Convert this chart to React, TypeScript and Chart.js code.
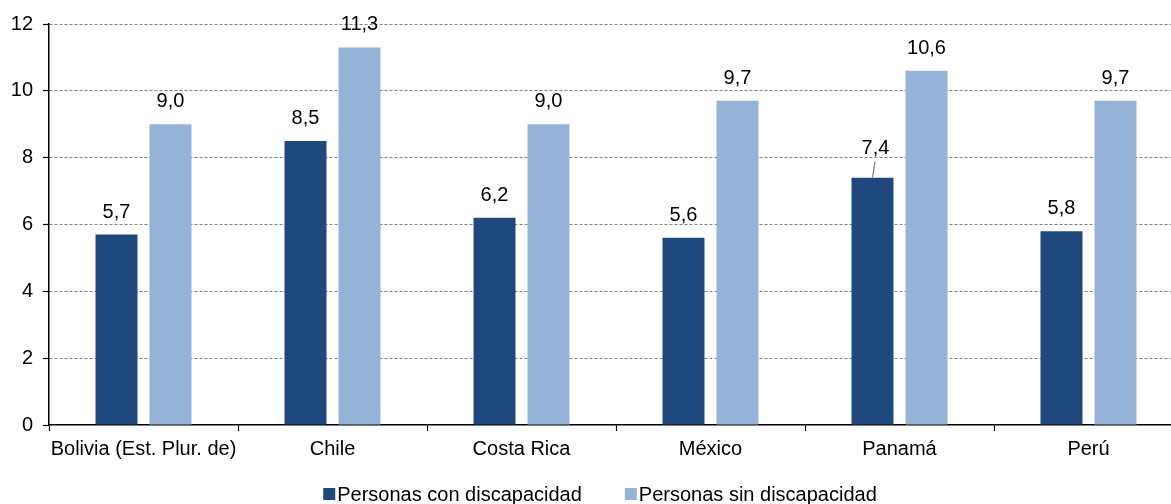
import React, { useEffect, useRef } from "react";
import { Chart, registerables } from "chart.js";

Chart.register(...registerables);

const categories = ["Bolivia (Est. Plur. de)", "Chile", "Costa Rica", "México", "Panamá", "Perú"];
const conDiscapacidad = [5.7, 8.5, 6.2, 5.6, 7.4, 5.8];
const sinDiscapacidad = [9.0, 11.3, 9.0, 9.7, 10.6, 9.7];
const seriesLabels = ["Personas con discapacidad", "Personas sin discapacidad"];
const seriesColors = ["#1F497D", "#95B3D7"];
const yTicks = [0, 2, 4, 6, 8, 10, 12];

const FONT = "'Liberation Sans', Arial, sans-serif";
const FS = 20;

const labelPlugin = {
  id: "valueLabels",
  afterDatasetsDraw(chart: any) {
    const ctx = chart.ctx;
    ctx.save();
    ctx.font = `${FS}px ${FONT}`;
    ctx.fillStyle = "#000";
    ctx.textAlign = "center";
    ctx.textBaseline = "alphabetic";
    chart.data.datasets.forEach((ds: any, di: number) => {
      const meta = chart.getDatasetMeta(di);
      meta.data.forEach((bar: any, i: number) => {
        const v = ds.data[i] as number;
        const txt = v.toFixed(1).replace(".", ",");
        const leader = di === 0 && categories[i] === "Panamá";
        if (leader) {
          ctx.fillText(txt, bar.x + 3, bar.y - 24);
          ctx.strokeStyle = "#808080";
          ctx.lineWidth = 1.2;
          ctx.beginPath();
          ctx.moveTo(bar.x + 2.5, bar.y - 16);
          ctx.lineTo(bar.x, bar.y);
          ctx.stroke();
        } else {
          ctx.fillText(txt, bar.x, bar.y - 17);
        }
      });
    });
    ctx.restore();
  },
};

const legendPlugin = {
  id: "customLegend",
  afterDraw(chart: any) {
    const ctx = chart.ctx;
    ctx.save();
    ctx.font = `${FS}px ${FONT}`;
    ctx.textBaseline = "alphabetic";
    ctx.textAlign = "left";
    const box = 12;
    const gapText = 2;
    const gapItem = 43;
    const widths = chart.data.datasets.map((ds: any) => box + gapText + ctx.measureText(ds.label).width);
    const total = widths.reduce((a: number, b: number) => a + b, 0) + gapItem * (widths.length - 1);
    let x = chart.width / 2 - total / 2;
    const baseline = 501;
    chart.data.datasets.forEach((ds: any, i: number) => {
      ctx.fillStyle = ds.backgroundColor;
      ctx.fillRect(x, 488, box, box);
      ctx.fillStyle = "#000";
      ctx.fillText(ds.label, x + box + gapText, baseline);
      x += widths[i] + gapItem;
    });
    ctx.restore();
  },
};

export default function App() {
  const ref = useRef<HTMLCanvasElement | null>(null);
  useEffect(() => {
    document.body.style.margin = "0";
    if (!ref.current) return;
    const chart = new Chart(ref.current, {
      type: "bar",
      data: {
        labels: categories,
        datasets: [
          {
            label: seriesLabels[0],
            data: conDiscapacidad,
            backgroundColor: seriesColors[0],
            categoryPercentage: 0.5714,
            barPercentage: 0.7778,
          },
          {
            label: seriesLabels[1],
            data: sinDiscapacidad,
            backgroundColor: seriesColors[1],
            categoryPercentage: 0.5714,
            barPercentage: 0.7778,
          },
        ],
      },
      options: {
        responsive: false,
        animation: false,
        layout: { padding: { top: 24, right: 17, left: 0, bottom: 37 } },
        plugins: {
          tooltip: { enabled: false },
          legend: { display: false },
        },
        scales: {
          x: {
            grid: {
              display: true,
              drawOnChartArea: false,
              drawTicks: true,
              tickLength: 6,
              tickColor: "#000",
              tickWidth: 1.2,
              offset: true,
            },
            border: { color: "#000", width: 1.5 },
            ticks: { font: { family: FONT, size: FS }, color: "#000", padding: 6, maxRotation: 0, autoSkip: false },
          },
          y: {
            min: 0,
            max: 12,
            afterBuildTicks: (scale: any) => {
              scale.ticks = yTicks.map((v) => ({ value: v }));
            },
            afterFit: (scale: any) => {
              scale.width = 49;
            },
            grid: {
              color: (c: any) => (c.tick && c.tick.value === 0 ? "rgba(0,0,0,0)" : "#7f7f7f"),
              tickColor: "#000",
              tickLength: 6,
              tickWidth: 1.2,
              tickBorderDash: [],
              lineWidth: 1,
            },
            border: { color: "#000", width: 1.5, dash: [3, 2] },
            ticks: { font: { family: FONT, size: FS }, color: "#000", padding: 10 },
          },
        },
      },
      plugins: [labelPlugin, legendPlugin],
    } as any);
    return () => chart.destroy();
  }, []);
  return (
    <div style={{ width: 1171, height: 504, overflow: "hidden" }}>
      <canvas ref={ref} width={1200} height={504} style={{ width: 1200, height: 504, display: "block" }} />
    </div>
  );
}
